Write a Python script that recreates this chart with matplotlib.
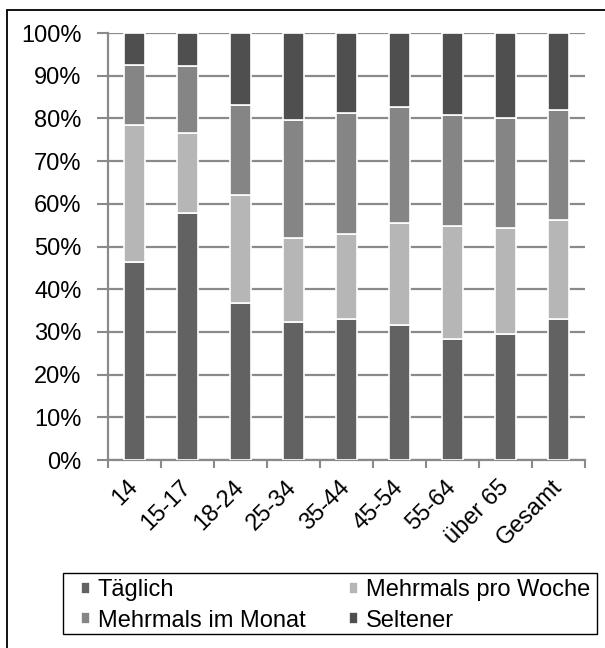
import numpy as np
import matplotlib.pyplot as plt
from matplotlib.patches import Rectangle

plt.rcParams['font.family'] = ['Liberation Sans', 'DejaVu Sans']

# Age groups and shares (%) per frequency
categories = ['14', '15-17', '18-24', '25-34', '35-44', '45-54', '55-64', 'über 65', 'Gesamt']
taeglich = [46.3, 57.9, 36.9, 32.4, 33.0, 31.6, 28.3, 29.5, 33.0]
pro_woche = [32.2, 18.8, 25.2, 19.6, 20.0, 24.0, 26.5, 24.9, 23.2]
im_monat = [14.1, 15.5, 21.1, 27.7, 28.3, 27.1, 26.1, 25.7, 25.8]
seltener = [7.4, 7.8, 16.8, 20.3, 18.7, 17.3, 19.1, 19.9, 18.0]

series = [
    ('Täglich', taeglich, '#626262'),
    ('Mehrmals pro Woche', pro_woche, '#b6b6b6'),
    ('Mehrmals im Monat', im_monat, '#858585'),
    ('Seltener', seltener, '#4f4f4f'),
]

W, H = 605, 648
fig = plt.figure(figsize=(W / 100, H / 100), dpi=100)
ax = fig.add_axes([0.1785, 0.290, 0.7885, 0.659])

x = np.arange(len(categories))
bottom = np.zeros(len(categories))
bars = []
for label, vals, color in series:
    vals = np.array(vals)
    b = ax.bar(x, vals, bottom=bottom, width=0.38, color=color, edgecolor='white',
               linewidth=1.2, label=label, zorder=3)
    bars.append(b)
    bottom += vals

ax.set_xlim(-0.5, len(categories) - 0.5)
ax.set_ylim(0, 100)
ax.set_yticks(np.arange(0, 101, 10))
ax.set_yticklabels([f'{v}%' for v in range(0, 101, 10)], fontsize=17)
ax.yaxis.grid(True, color='#8a8a8a', linewidth=1.6, zorder=0)

ax.set_xticks(x)
ax.set_xticklabels(categories, fontsize=17, rotation=45, ha='right',
                   va='center', rotation_mode='anchor')
ax.set_xticks(np.arange(-0.5, len(categories)), minor=True)
ax.tick_params(axis='x', which='major', length=0, pad=17)
ax.tick_params(axis='x', which='minor', length=6, width=1.5, color='#8a8a8a')
ax.tick_params(axis='y', length=8, width=1.5, color='#8a8a8a', pad=11)

for side in ['top', 'right']:
    ax.spines[side].set_visible(False)
for side in ['left', 'bottom']:
    ax.spines[side].set_color('#8a8a8a')
    ax.spines[side].set_linewidth(1.6)

# legend is filled row by row in the original
order = [0, 2, 1, 3]
fig.legend([bars[i] for i in order], [series[i][0] for i in order],
           loc='center', bbox_to_anchor=(81 / W, 1 - 636 / H, 509 / W, 61 / H),
           mode='expand', ncol=2, fontsize=17, frameon=False,
           handlelength=0.38, handleheight=0.38, handletextpad=0.34,
           labelspacing=0.35, borderpad=0, borderaxespad=0)
fig.patches.append(Rectangle((63 / W, 1 - 634 / H), 534 / W, 61 / H, transform=fig.transFigure,
                             fill=False, edgecolor='black', linewidth=1.0))

# outer border of the picture
fig.patches.append(Rectangle((7 / W, -0.1), 1.2, 1.1 - 10 / H, transform=fig.transFigure,
                             fill=False, edgecolor='black', linewidth=1.3))

fig.savefig('out.png', dpi=100)
